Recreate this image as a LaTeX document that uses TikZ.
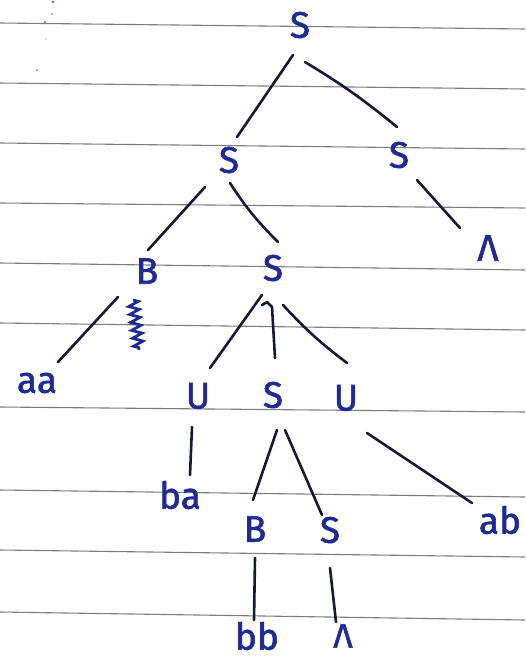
\documentclass[tikz,border=0pt]{standalone}
\usepackage{fontspec}
\setmainfont{Fira Sans}
\newfontfamily\handfont{Fira Sans}[FakeBold=1.6]
\usetikzlibrary{calc,decorations.pathmorphing}
\definecolor{ink}{RGB}{32,42,150}
\definecolor{pen}{RGB}{22,24,55}
\definecolor{ruleline}{RGB}{125,125,125}
\definecolor{faint}{RGB}{110,130,210}
\begin{document}
\begin{tikzpicture}[x=1pt,y=1pt,
  lab/.style={text=ink, inner sep=0pt, font=\handfont\fontsize{37}{40}\selectfont},
  edge/.style={draw=pen, line width=2.6pt, line cap=round, line join=round},
  paperline/.style={draw=ruleline, line width=1.1pt}]
\useasboundingbox (0,0) rectangle (525,-661);
\clip (0,0) rectangle (525,-661);
\fill[white] (0,0) rectangle (525,-661);
% ruled lines of the paper
\foreach \a/\b in {23/29,83/89,143/149,203/208,263/270,323/330,407/412,490/497,550/557,612/620}
  \draw[paperline] (0,-\a) -- (525,-\b);
% faint margin marks
\fill[faint] (53,-2) circle (1.5);
\fill[faint] (52,-14) circle (1);
\fill[faint] (45,-22) circle (1.3);
\fill[faint!60] (46,-39) circle (0.8);
\fill[faint] (37,-70) circle (1.2);
% nodes
\node[lab] (S0) at (300,-25) {S};
\node[lab] (S1) at (229,-160) {S};
\node[lab] (S2) at (399,-155) {S};
\node[lab] (L1) at (488,-248) {Λ};
\node[lab] (B1) at (147,-271) {B};
\node[lab] (S3) at (273,-268) {S};
\node[lab] (aa) at (37,-383) {aa};
\node[lab] (U1) at (198,-396) {U};
\node[lab] (S4) at (273,-395) {S};
\node[lab] (U2) at (346,-398) {U};
\node[lab] (ba) at (180,-495) {ba};
\node[lab] (B2) at (255,-529) {B};
\node[lab] (S5) at (330,-530) {S};
\node[lab] (ab) at (500,-520) {ab};
\node[lab] (bb) at (257,-636) {bb};
\node[lab, font=\handfont\fontsize{34}{38}\selectfont] (L2) at (343,-636) {Λ};
% connectors
\draw[edge] ($(S0)+(-7,-30)$) -- ($(S1)+(8,23)$);
\draw[edge] ($(S0)+(5,-37)$) to[bend left=4] ($(S2)+(-2,28)$);
\draw[edge] ($(S1)+(-24,-27)$) -- ($(B1)+(1,21)$);
\draw[edge] ($(S1)+(1,-23)$) to[bend right=6] ($(S3)+(5,26)$);
\draw[edge] ($(S2)+(18,-25)$) -- ($(L1)+(-28,20)$);
\draw[edge] ($(B1)+(-29,-26)$) -- ($(aa)+(21,21)$);
\draw[edge] ($(S3)+(-11,-27)$) -- ($(U1)+(12,28)$);
\draw[edge] ($(S3)+(-11,-37)$) -- ($(S3)+(-6,-34)$) -- ($(S3)+(-1,-39)$) -- ($(S4)+(2,37)$);
\draw[edge] ($(S3)+(10,-37)$) to[bend right=5] ($(U2)+(1,35)$);
\draw[edge] ($(U1)+(-6,-31)$) -- ($(ba)+(10,20)$);
\draw[edge] ($(S4)+(4,-35)$) -- ($(B2)+(-2,29)$);
\draw[edge] ($(S4)+(12,-35)$) -- ($(S5)+(-8,15)$);
\draw[edge] ($(U2)+(21,-35)$) -- ($(ab)+(-28,17)$);
\draw[edge] ($(B2)+(0,-29)$) -- ($(bb)+(-3,16)$);
\draw[edge] ($(S5)+(0,-38)$) -- ($(L2)+(-7,14)$);
% scribble next to B
\draw[draw=ink, line width=2.8pt, decorate,
  decoration={zigzag, segment length=8pt, amplitude=5pt}] (133,-300) -- (139,-350);
\end{tikzpicture}
\end{document}
